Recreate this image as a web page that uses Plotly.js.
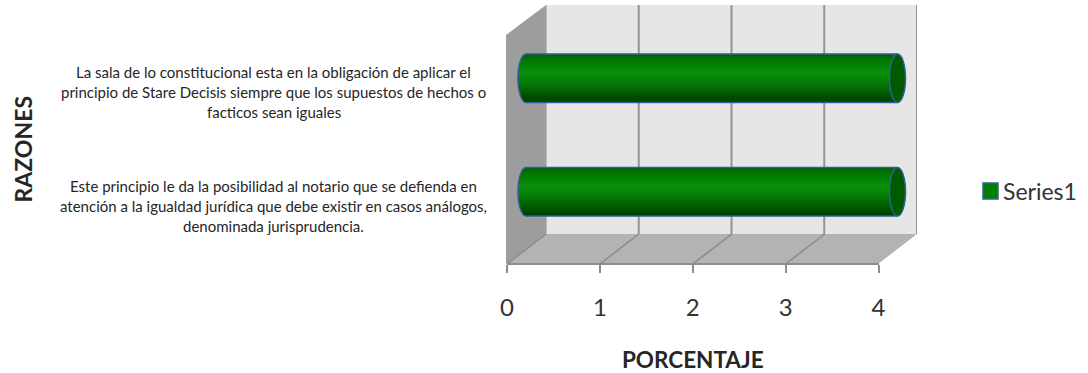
<!DOCTYPE html>
<html>
<head>
<meta charset="utf-8">
<script src="https://cdn.plot.ly/plotly-3.0.1.min.js"></script>
<style>html,body{margin:0;padding:0;background:#fff}#chart{width:1088px;height:373px}</style>
</head>
<body>
<div id="chart"></div>
<script>
// Reasons, bottom row first, each split into its printed lines
const reasonLines = [
  ["Este principio le da la posibilidad al notario que se defienda en",
   "atención a la igualdad jurídica que debe existir en casos análogos,",
   "denominada jurisprudencia."],
  ["La sala de lo constitucional esta en la obligación de aplicar el",
   "principio de Stare Decisis siempre que los supuestos de hechos o",
   "facticos sean iguales"]
];
const categories = reasonLines.map(l => l.join(" "));
const seriesName = "Series1";
const seriesValues = [4, 4];
const xTicks = [0, 1, 2, 3, 4];

const W = 1088, H = 373;
const fx = p => p / W;
const fy = p => 1 - p / H;
const domX = (a, b) => [fx(a), fx(b)];
const domY = (top, bottom) => [fy(bottom), fy(top)];
const poly = pts => "M" + pts.map(p => fx(p[0]) + "," + fy(p[1])).join("L") + "Z";

const barBand = 0.427;
const BODY = "Lato, 'Open Sans', sans-serif";
const GRID = "#949494";

// bar plane keeps spare room either side of its 0-4 span so the cylinder ends are not clipped
const barPad = 0.25;
const barUnit = (897.5 - 526) / 4;

const shapes = [
  // box walls and floor
  {type:"path", xref:"paper", yref:"paper", layer:"below", line:{width:0}, fillcolor:"#e6e6e6",
   path:poly([[546,5],[917,5],[917,234],[546,234]])},
  {type:"path", xref:"paper", yref:"paper", layer:"below", line:{width:0}, fillcolor:"#9d9d9d",
   path:poly([[506,35],[546,5],[546,234],[506,264]])},
  {type:"path", xref:"paper", yref:"paper", layer:"below", line:{width:0}, fillcolor:"#b3b3b3",
   path:poly([[507,264],[546,234],[917,234],[878,264]])}
];
xTicks.forEach(t => {
  // back-wall ruling
  shapes.push({type:"line", xref:"x", yref:"paper", layer:"below", x0:t, x1:t,
    y0:fy(234), y1:fy(5), line:{color:t === 0 ? "#bdbdbd" : GRID, width:2}});
  // floor ruling running back from the front tick
  shapes.push({type:"line", xref:"x3", yref:"paper", layer:"below",
    xsizemode:"pixel", xanchor:t, x0:0, x1:39,
    y0:fy(264), y1:fy(234), line:{color:"#8a8a8a", width:1.5}});
});
// cylinder ends, pinned to the base and to each bar's value
seriesValues.forEach((v, i) => {
  shapes.push({type:"circle", xref:"x2", yref:"y2", layer:"below",
    xsizemode:"pixel", xanchor:0, x0:-8, x1:8, y0:i-barBand/2, y1:i+barBand/2,
    fillcolor:"#008001", line:{color:"#2f5f96", width:1.5}});
  shapes.push({type:"circle", xref:"x2", yref:"y2", layer:"above",
    xsizemode:"pixel", xanchor:v, x0:-8, x1:8, y0:i-barBand/2, y1:i+barBand/2,
    fillcolor:"#005a00", line:{color:"#2f5f96", width:1.5}});
});

// reason text, one annotation per printed line, aligned to the front plane
const annotations = [];
reasonLines.forEach((lines, i) => lines.forEach((txt, j) => annotations.push({
  xref:"paper", yref:"y3", x:fx(273.5), y:i, xanchor:"center", yanchor:"middle",
  yshift:(1-j)*20, showarrow:false, text:txt,
  font:{family:BODY, size:15, color:"#262626"}
})));

const hidden = {showgrid:false, zeroline:false, showticklabels:false, ticks:"", showline:false, fixedrange:true};

const data = [{
  type:"bar", orientation:"h", name:seriesName, showlegend:true,
  x:seriesValues, y:categories, xaxis:"x2", yaxis:"y2", width:barBand,
  marker:{color:"#008000", line:{color:"#2f5f96", width:1.5}},
  hoverinfo:"x+y"
}];

const layout = {
  width:W, height:H, margin:{l:0,r:0,t:0,b:0,pad:0},
  paper_bgcolor:"#ffffff", plot_bgcolor:"rgba(0,0,0,0)",
  font:{family:BODY, color:"#262626"},
  showlegend:true,
  legend:{x:fx(963), xanchor:"left", y:fy(191), yanchor:"middle",
          font:{family:BODY, size:23, color:"#333333"}, bgcolor:"rgba(0,0,0,0)", borderwidth:0},
  // back wall
  xaxis:{...hidden, domain:domX(546,917), range:[0,4], anchor:"y"},
  yaxis:{...hidden, domain:domY(5,234), range:[0,1], anchor:"x"},
  // bar plane, halfway into the box
  xaxis2:{...hidden, domain:domX(526 - barPad*barUnit, 897.5 + barPad*barUnit), range:[-barPad, 4 + barPad], anchor:"y2"},
  yaxis2:{...hidden, domain:domY(21.5,248.5), type:"category", categoryarray:categories,
          categoryorder:"array", range:[-0.5,1.5], anchor:"x2"},
  // front plane, carrying the labelled axis
  xaxis3:{domain:domX(507,878.5), range:[0,4], anchor:"y3", tickvals:xTicks, fixedrange:true,
          showgrid:false, zeroline:false, showline:true, linecolor:"#8c8c8c", linewidth:2,
          ticks:"outside", ticklen:8, tickwidth:2, tickcolor:"#8c8c8c", ticklabelstandoff:14,
          tickfont:{family:BODY, size:24, color:"#333333"},
          title:{text:"PORCENTAJE", standoff:33, font:{family:BODY, size:22.5, color:"#262626", weight:"bold"}}},
  yaxis3:{...hidden, domain:domY(35.5,263), range:[-0.5,1.5], anchor:"x3",
          title:{text:"RAZONES", standoff:466, font:{family:BODY, size:23, color:"#262626", weight:"bold"}}},
  shapes, annotations
};

Plotly.newPlot("chart", data, layout, {displayModeBar:false}).then(gd => {
  // cylinder shading: vertical gradient across the bar and its rear cap
  const NS = "http://www.w3.org/2000/svg";
  const defs = gd.querySelector(".main-svg defs");
  const grad = document.createElementNS(NS, "linearGradient");
  grad.id = "cylinderShade";
  grad.setAttribute("x1", "0"); grad.setAttribute("y1", "0");
  grad.setAttribute("x2", "0"); grad.setAttribute("y2", "1");
  [[0,"#005f00"],[0.1,"#007300"],[0.38,"#098f09"],[0.55,"#067f06"],[0.8,"#005c00"],[1,"#003a00"]].forEach(s => {
    const st = document.createElementNS(NS, "stop");
    st.setAttribute("offset", s[0]); st.setAttribute("stop-color", s[1]);
    grad.appendChild(st);
  });
  defs.appendChild(grad);

  gd.querySelectorAll(".barlayer .point path").forEach(p => {
    p.style.fill = "url(#cylinderShade)";
    // outline only the long edges, so the body merges into the rear cap
    const b = p.getBBox();
    p.style.strokeDasharray = `0 ${b.height} ${b.width} ${b.height} ${b.width}`;
  });
  gd.querySelectorAll(".shapelayer path").forEach(p => {
    if (p.style.fill === "rgb(0, 128, 1)") p.style.fill = "url(#cylinderShade)";
  });
  // larger legend swatch, set close to its label
  gd.querySelectorAll(".legend .legendpoints path").forEach(p => {
    p.setAttribute("d", "M35,-8H20V8H35Z");
    p.removeAttribute("transform");
    p.style.strokeWidth = "1.5px";
  });
});
</script>
</body>
</html>
